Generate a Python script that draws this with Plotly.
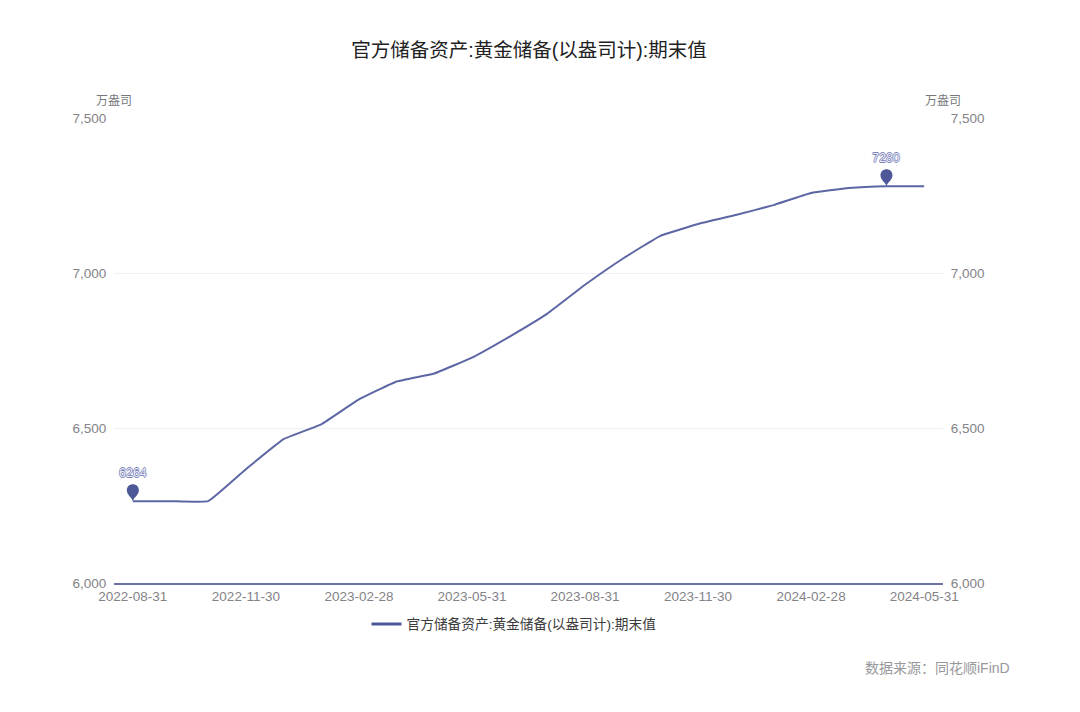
import plotly.graph_objects as go

TITLE = '官方储备资产:黄金储备(以盎司计):期末值'

dates = ['2022-08-31', '2022-09-30', '2022-10-31', '2022-11-30', '2022-12-31', '2023-01-31',
         '2023-02-28', '2023-03-31', '2023-04-30', '2023-05-31', '2023-06-30', '2023-07-31',
         '2023-08-31', '2023-09-30', '2023-10-31', '2023-11-30', '2023-12-31', '2024-01-31',
         '2024-02-28', '2024-03-31', '2024-04-30', '2024-05-31']
gold = [6264, 6264, 6264, 6367, 6464, 6512, 6592, 6650, 6676, 6727, 6795, 6869,
        6962, 7046, 7120, 7158, 7187, 7219, 7258, 7274, 7280, 7280]
y_ticks = [6000, 6500, 7000, 7500]

LINE = '#5d66a4'
DARK = '#4c5897'
GREY = '#838388'
FONT = 'Liberation Sans, Noto Sans CJK SC, sans-serif'
OUTLINE = ('0.7px 0 0 #7d86bd, -0.7px 0 0 #7d86bd, 0 0.7px 0 #7d86bd, 0 -0.7px 0 #7d86bd')

# pin drawn in pixels, anchored on the data point
PIN = 'M0,0 C-1,4 -6,6 -6,11 C-6,19 6,19 6,11 C6,6 1,4 0,0 Z'

# the page body has an 8px margin, so everything is laid out 8px up and left
PAGE = 8
W, H = 1080 - PAGE, 712 - PAGE
L, R, T, B = 114 - PAGE, 943 - PAGE, 118 - PAGE, 583 - PAGE


def paper_x(px):
    return (px - PAGE - L) / (R - L)


def paper_y(py):
    return (B - (py - PAGE)) / (B - T)


i_min = gold.index(min(gold))
i_max = gold.index(max(gold))

fig = go.Figure()
fig.add_trace(go.Scatter(x=dates, y=gold, mode='lines', showlegend=False,
                         line=dict(color=LINE, width=2, shape='spline', smoothing=0.3)))
# right axis needs a trace of its own
fig.add_trace(go.Scatter(x=dates, y=gold, yaxis='y2', mode='lines', showlegend=False,
                         hoverinfo='skip', line=dict(color='rgba(0,0,0,0)', width=0)))
# legend key is thicker than the line
fig.add_trace(go.Scatter(x=dates, y=[None] * len(dates), mode='lines', name=TITLE,
                         line=dict(color=DARK, width=3)))

shapes = []
annotations = []
for i in [i_min, i_max]:
    shapes.append(dict(type='path', path=PIN, xref='x', yref='y', xsizemode='pixel', ysizemode='pixel',
                       xanchor=i, yanchor=gold[i], fillcolor=DARK, line=dict(width=0)))
    annotations.append(dict(x=i, y=gold[i], xref='x', yref='y', text=str(gold[i]), showarrow=False,
                            yshift=28, font=dict(size=12.5, color='#e8eaf5', family=FONT, shadow=OUTLINE)))

unit_font = dict(size=12, color='#77777c', family=FONT)
annotations += [
    dict(x=0, y=paper_y(101), xref='paper', yref='paper', text='万盎司', showarrow=False,
         xanchor='center', yanchor='middle', font=unit_font),
    dict(x=1, y=paper_y(101), xref='paper', yref='paper', text='万盎司', showarrow=False,
         xanchor='center', yanchor='middle', font=unit_font),
    dict(x=paper_x(1012), y=paper_y(668), xref='paper', yref='paper', text='数据来源：同花顺iFinD',
         showarrow=False, xanchor='right', yanchor='middle', font=dict(size=14, color='#98989c', family=FONT)),
]

# invisible ticks push the y labels away from the plot
y_axis_style = dict(range=[6000, 7500], tickvals=y_ticks, tickformat=',d', zeroline=False, showline=False,
                    ticks='outside', ticklen=4, tickcolor='rgba(0,0,0,0)', tickfont=dict(size=13.5, color=GREY))

fig.update_layout(
    width=W, height=H,
    margin=dict(l=L, r=W - R, t=T, b=H - B, pad=0),
    paper_bgcolor='white', plot_bgcolor='white',
    font=dict(family=FONT, size=13.5, color=GREY),
    title=dict(text=TITLE, x=(529 - PAGE) / W, xanchor='center', y=1 - (50 - PAGE) / H, yanchor='middle',
               font=dict(size=19.5, color='#222222', family=FONT)),
    xaxis=dict(type='category', range=[-0.5, len(dates) - 0.5], tickmode='array',
               tickvals=dates[::3], ticktext=dates[::3], showgrid=False, zeroline=False,
               showline=True, linecolor='#6f72a8', linewidth=2, ticks='', ticklen=0,
               tickangle=0, tickfont=dict(size=13.5, color=GREY)),
    yaxis=dict(showgrid=True, gridcolor='#eff0f5', gridwidth=1, **y_axis_style),
    yaxis2=dict(overlaying='y', side='right', showgrid=False, **y_axis_style),
    legend=dict(orientation='h', x=paper_x(514), y=paper_y(624), xanchor='center', yanchor='middle',
                font=dict(size=13.7, color='#3c3c3c', family=FONT), bgcolor='rgba(0,0,0,0)'),
    shapes=shapes,
    annotations=annotations,
    hovermode='x',
)

fig.write_html('out.html')
